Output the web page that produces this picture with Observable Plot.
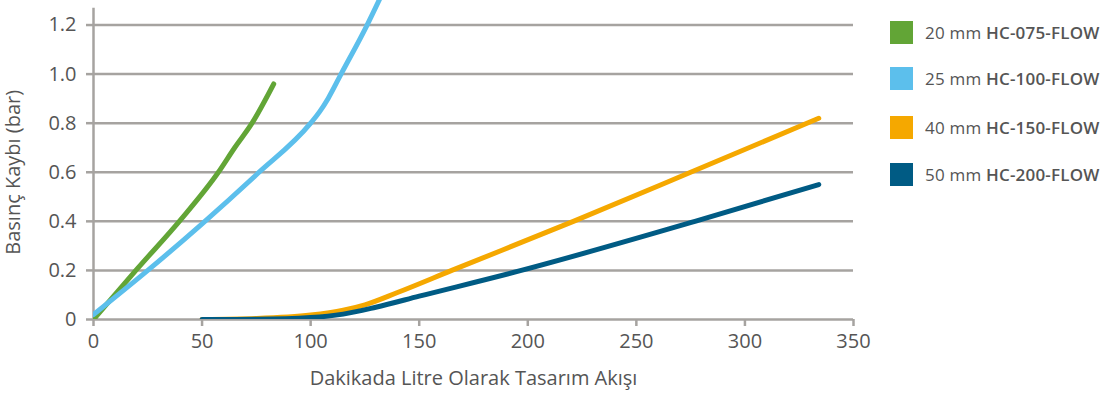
<!DOCTYPE html>
<html><head><meta charset="utf-8">
<script src="https://cdn.jsdelivr.net/npm/d3@7"></script>
<script src="https://cdn.jsdelivr.net/npm/@observablehq/plot@0.6"></script>
<style>
body{margin:0;background:#fff;font-family:"Open Sans",sans-serif;}
#wrap{position:relative;width:1106px;height:396px;overflow:hidden;}
#chart{position:absolute;left:0;top:0;}
.item{position:absolute;left:890px;height:23px;display:flex;align-items:center;white-space:nowrap;font-size:17px;letter-spacing:0.2px;color:#555;}
.sw{width:23px;height:23px;margin-right:12px;flex:none;}
.item b{font-weight:600;}
</style></head><body><div id="wrap"><div id="chart"></div></div>
<script>
// Series (flow l/min, pressure loss bar)
const seriesNames = ["20 mm HC-075-FLOW", "25 mm HC-100-FLOW", "40 mm HC-150-FLOW", "50 mm HC-200-FLOW"];
const seriesSizes = ["20 mm", "25 mm", "40 mm", "50 mm"];
const seriesCodes = ["HC-075-FLOW", "HC-100-FLOW", "HC-150-FLOW", "HC-200-FLOW"];
const seriesColors = ["#62a536", "#5cbfec", "#f5a800", "#005b84"];

const flow20 = [0, 20, 40, 57.5, 65, 73, 83];
const loss20 = [0, 0.205, 0.405, 0.6, 0.7, 0.8, 0.96];

const flow25 = [0, 25, 50, 75, 100, 104, 108, 114, 126, 132];
const loss25 = [0.02, 0.2, 0.39, 0.59, 0.8, 0.845, 0.9, 1.0, 1.2, 1.31];

const flow40 = [50, 75, 100, 115, 125, 140, 165, 221, 275, 334];
const loss40 = [0, 0.004, 0.018, 0.038, 0.06, 0.11, 0.2, 0.4, 0.6, 0.82];

const flow50 = [50, 75, 100, 115, 130, 150, 197, 277, 334];
const loss50 = [0, 0.001, 0.008, 0.022, 0.05, 0.095, 0.2, 0.4, 0.55];

const xTicks = [0, 50, 100, 150, 200, 250, 300, 350];
const yTicks = [0, 0.2, 0.4, 0.6, 0.8, 1.0, 1.2];
const xLabel = "Dakikada Litre Olarak Tasarım Akışı";
const yLabel = "Basınç Kaybı (bar)";

const flows = [flow20, flow25, flow40, flow50];
const losses = [loss20, loss25, loss40, loss50];
const rows = seriesNames.flatMap((s, i) => flows[i].map((f, j) => ({series: s, flow: f, loss: losses[i][j]})));

const grid = "#a6a3a0";
const txt = "#555";

const chart = Plot.plot({
  width: 870, height: 396,
  marginLeft: 93, marginRight: 17, marginTop: 0, marginBottom: 77,
  style: {fontFamily: "Open Sans, sans-serif", fontSize: "20px", color: txt, background: "transparent", overflow: "visible"},
  x: {domain: [0, 350], ticks: xTicks},
  y: {domain: [0, 1.3], ticks: yTicks},
  color: {domain: seriesNames, range: seriesColors},
  marks: [
    Plot.gridY(yTicks.filter(d => d > 0), {stroke: grid, strokeOpacity: 1, strokeWidth: 2.5}),
    Plot.axisY(yTicks, {tickSize: 7, tickPadding: 10, stroke: grid, strokeWidth: 2.5, fill: txt, label: null, fontSize: 20, tickFormat: d => d === 0 ? "0" : d.toFixed(1)}),
    Plot.axisX(xTicks, {tickSize: 7, tickPadding: 7, stroke: grid, strokeWidth: 2.5, fill: txt, label: null, fontSize: 20}),
    Plot.ruleY([0], {stroke: grid, strokeWidth: 2.5}),
    Plot.ruleX([0], {y1: 0, y2: 1.268, stroke: grid, strokeWidth: 2.5}),
    Plot.line(rows, {x: "flow", y: "loss", z: "series", stroke: "series", strokeWidth: 5, curve: "monotone-x", clip: true, strokeLinecap: "round", strokeLinejoin: "round"}),
    Plot.text([yLabel], {text: d => d, frameAnchor: "left", textAnchor: "middle", y: () => 0.6, dx: -80, rotate: -90, fontSize: 20, fill: txt}),
    Plot.text([xLabel], {text: d => d, frameAnchor: "bottom", x: () => 175, dy: 65, fontSize: 20, fill: txt})
  ]
});
document.getElementById("chart").appendChild(chart);

const centers = [32.2, 78.2, 127.5, 174.3];
const wrap = document.getElementById("wrap");
seriesNames.forEach((s, i) => {
  const d = document.createElement("div");
  d.className = "item";
  d.style.top = (centers[i] - 11.5) + "px";
  const sw = document.createElement("div");
  sw.className = "sw";
  sw.style.background = seriesColors[i];
  d.appendChild(sw);
  const t = document.createElement("span");
  t.textContent = seriesSizes[i] + " ";
  const b = document.createElement("b");
  b.textContent = seriesCodes[i];
  t.appendChild(b);
  d.appendChild(t);
  wrap.appendChild(d);
});
</script></body></html>
